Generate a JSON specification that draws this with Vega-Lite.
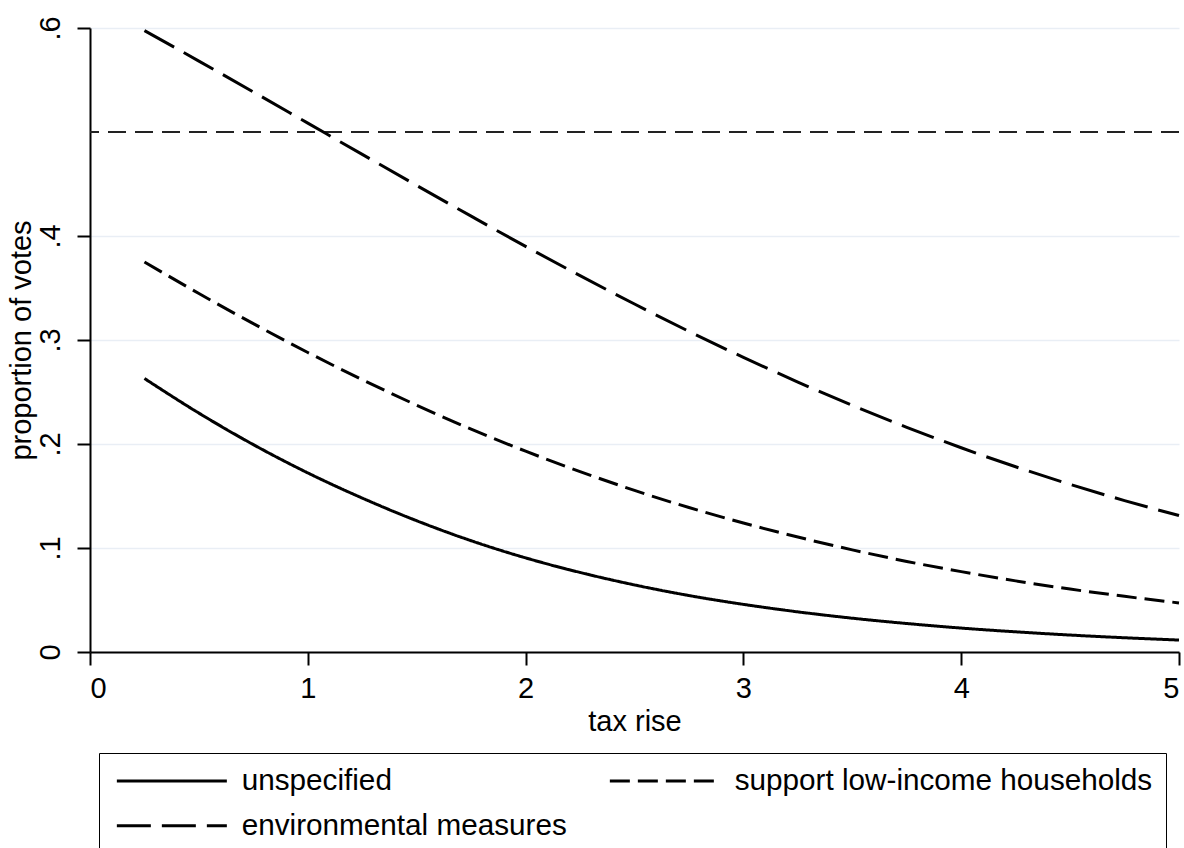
{
  "$schema": "https://vega.github.io/schema/vega-lite/v6.json",
  "autosize": {"type": "none"},
  "padding": {"left": 90, "top": 28, "right": 5, "bottom": 196},
  "width": 1089,
  "height": 624,
  "background": "white",
  "config": {
    "view": {"stroke": null},
    "font": "Liberation Sans",
    "axis": {
      "domainColor": "black",
      "domainWidth": 2,
      "tickColor": "black",
      "tickWidth": 2,
      "tickSize": 13,
      "labelColor": "black",
      "labelFont": "Liberation Sans",
      "labelFontSize": 29,
      "titleColor": "black",
      "titleFont": "Liberation Sans",
      "titleFontSize": 29,
      "titleFontWeight": "normal",
      "gridColor": "#e9eef5",
      "gridWidth": 1.5
    },
    "legend": {
      "labelFont": "Liberation Sans",
      "labelFontSize": 29.7,
      "labelColor": "black"
    }
  },
  "datasets": {
    "curves": [
      {"x": 0.25, "p": 0.263, "series": "unspecified"},
      {"x": 0.5, "p": 0.2297, "series": "unspecified"},
      {"x": 0.75, "p": 0.1994, "series": "unspecified"},
      {"x": 1.0, "p": 0.1722, "series": "unspecified"},
      {"x": 1.25, "p": 0.148, "series": "unspecified"},
      {"x": 1.5, "p": 0.1262, "series": "unspecified"},
      {"x": 1.75, "p": 0.107, "series": "unspecified"},
      {"x": 2.0, "p": 0.0905, "series": "unspecified"},
      {"x": 2.25, "p": 0.0765, "series": "unspecified"},
      {"x": 2.5, "p": 0.0645, "series": "unspecified"},
      {"x": 2.75, "p": 0.0543, "series": "unspecified"},
      {"x": 3.0, "p": 0.0458, "series": "unspecified"},
      {"x": 3.25, "p": 0.0386, "series": "unspecified"},
      {"x": 3.5, "p": 0.0325, "series": "unspecified"},
      {"x": 3.75, "p": 0.0274, "series": "unspecified"},
      {"x": 4.0, "p": 0.023, "series": "unspecified"},
      {"x": 4.25, "p": 0.0194, "series": "unspecified"},
      {"x": 4.5, "p": 0.0163, "series": "unspecified"},
      {"x": 4.75, "p": 0.0137, "series": "unspecified"},
      {"x": 5.0, "p": 0.0115, "series": "unspecified"},
      {"x": 0.25, "p": 0.375, "series": "support low-income households"},
      {"x": 0.5, "p": 0.3447, "series": "support low-income households"},
      {"x": 0.75, "p": 0.3157, "series": "support low-income households"},
      {"x": 1.0, "p": 0.288, "series": "support low-income households"},
      {"x": 1.25, "p": 0.2619, "series": "support low-income households"},
      {"x": 1.5, "p": 0.2373, "series": "support low-income households"},
      {"x": 1.75, "p": 0.2143, "series": "support low-income households"},
      {"x": 2.0, "p": 0.1931, "series": "support low-income households"},
      {"x": 2.25, "p": 0.1735, "series": "support low-income households"},
      {"x": 2.5, "p": 0.1554, "series": "support low-income households"},
      {"x": 2.75, "p": 0.1389, "series": "support low-income households"},
      {"x": 3.0, "p": 0.124, "series": "support low-income households"},
      {"x": 3.25, "p": 0.1105, "series": "support low-income households"},
      {"x": 3.5, "p": 0.0982, "series": "support low-income households"},
      {"x": 3.75, "p": 0.0871, "series": "support low-income households"},
      {"x": 4.0, "p": 0.0773, "series": "support low-income households"},
      {"x": 4.25, "p": 0.0684, "series": "support low-income households"},
      {"x": 4.5, "p": 0.0605, "series": "support low-income households"},
      {"x": 4.75, "p": 0.0535, "series": "support low-income households"},
      {"x": 5.0, "p": 0.0472, "series": "support low-income households"},
      {"x": 0.25, "p": 0.5975, "series": "environmental measures"},
      {"x": 0.5, "p": 0.5682, "series": "environmental measures"},
      {"x": 0.75, "p": 0.5385, "series": "environmental measures"},
      {"x": 1.0, "p": 0.5085, "series": "environmental measures"},
      {"x": 1.25, "p": 0.4785, "series": "environmental measures"},
      {"x": 1.5, "p": 0.4486, "series": "environmental measures"},
      {"x": 1.75, "p": 0.4191, "series": "environmental measures"},
      {"x": 2.0, "p": 0.39, "series": "environmental measures"},
      {"x": 2.25, "p": 0.3619, "series": "environmental measures"},
      {"x": 2.5, "p": 0.3346, "series": "environmental measures"},
      {"x": 2.75, "p": 0.3083, "series": "environmental measures"},
      {"x": 3.0, "p": 0.2833, "series": "environmental measures"},
      {"x": 3.25, "p": 0.2596, "series": "environmental measures"},
      {"x": 3.5, "p": 0.2371, "series": "environmental measures"},
      {"x": 3.75, "p": 0.216, "series": "environmental measures"},
      {"x": 4.0, "p": 0.1964, "series": "environmental measures"},
      {"x": 4.25, "p": 0.1781, "series": "environmental measures"},
      {"x": 4.5, "p": 0.1612, "series": "environmental measures"},
      {"x": 4.75, "p": 0.1456, "series": "environmental measures"},
      {"x": 5.0, "p": 0.1312, "series": "environmental measures"}
    ]
  },
  "data": {"name": "curves"},
  "layer": [
    {
      "mark": {"type": "rule", "color": "#222222", "strokeWidth": 2, "strokeDash": [18, 9]},
      "encoding": {"y": {"datum": 0.5, "type": "quantitative"}}
    },
    {
      "mark": {"type": "line", "color": "black", "strokeWidth": 3, "interpolate": "monotone"},
      "encoding": {
        "x": {
          "field": "x",
          "type": "quantitative",
          "scale": {"domain": [0, 5], "nice": false, "zero": false},
          "axis": {
            "title": "tax rise",
            "values": [0, 1, 2, 3, 4, 5],
            "grid": false,
            "labelPadding": 9,
            "titlePadding": 4
          }
        },
        "y": {
          "field": "p",
          "type": "quantitative",
          "scale": {"domain": [0, 0.6], "nice": false},
          "axis": {
            "title": "proportion of votes",
            "values": [0, 0.1, 0.2, 0.3, 0.4, 0.6],
            "grid": true,
            "labelAngle": -90,
            "labelAlign": "center",
            "labelBaseline": "bottom",
            "labelPadding": 12,
            "labelExpr": "datum.value == 0 ? '0' : substring(format(datum.value, '.1f'), 1)",
            "titleAngle": -90,
            "titleX": -69,
            "titleY": 312,
            "titleAlign": "center",
            "titleBaseline": "middle"
          }
        },
        "strokeDash": {
          "field": "series",
          "type": "nominal",
          "scale": {
            "domain": ["unspecified", "support low-income households", "environmental measures"],
            "range": [[1, 0], [20, 8], [34, 11]]
          },
          "legend": {
            "title": null,
            "orient": "none",
            "legendX": 9,
            "legendY": 725,
            "columns": 2,
            "columnPadding": 36,
            "rowPadding": 14,
            "padding": 13,
            "strokeColor": "black",
            "values": ["unspecified", "environmental measures", "support low-income households"],
            "symbolType": "M-1,0H10",
            "symbolSize": 400,
            "symbolStrokeWidth": 3,
            "symbolStrokeColor": "black",
            "labelOffset": 100,
            "labelLimit": 0
          }
        }
      }
    }
  ]
}
